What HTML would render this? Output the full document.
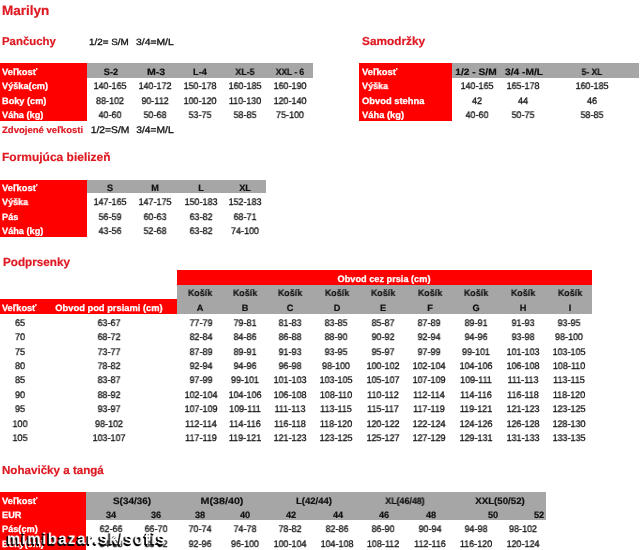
<!DOCTYPE html>
<html><head><meta charset="utf-8"><style>
html,body{margin:0;padding:0;background:#fff;width:640px;height:550px;overflow:hidden}
body{position:relative;font-family:"Liberation Sans",sans-serif}
.r{position:absolute}
.t{position:absolute;white-space:nowrap;line-height:1;text-rendering:geometricPrecision;will-change:transform}
.n{-webkit-text-stroke:0.3px #111}
.kb{-webkit-text-stroke:0.2px #111}
.wb{-webkit-text-stroke:0.25px #fff}
.rb{-webkit-text-stroke:0.2px #de1922}
</style></head><body>
<div class="r" style="left:0px;top:63.2px;width:87.00px;height:57.50px;background:#ff0000"></div>
<div class="r" style="left:87px;top:63.2px;width:226.00px;height:14.50px;background:#a6a6a6"></div>
<div class="r" style="left:359.3px;top:63.2px;width:93.00px;height:57.50px;background:#ff0000"></div>
<div class="r" style="left:452.3px;top:63.2px;width:186.70px;height:14.50px;background:#a6a6a6"></div>
<div class="r" style="left:0px;top:179.6px;width:87.00px;height:57.20px;background:#ff0000"></div>
<div class="r" style="left:87px;top:179.6px;width:179.00px;height:13.90px;background:#a6a6a6"></div>
<div class="r" style="left:177px;top:270.3px;width:415.00px;height:14.60px;background:#ff0000"></div>
<div class="r" style="left:177px;top:284.9px;width:415.00px;height:28.90px;background:#a6a6a6"></div>
<div class="r" style="left:0px;top:299.4px;width:177.00px;height:14.40px;background:#ff0000"></div>
<div class="r" style="left:0px;top:492.4px;width:86.30px;height:57.60px;background:#ff0000"></div>
<div class="r" style="left:86.3px;top:492.4px;width:459.70px;height:28.10px;background:#a6a6a6"></div>
<div class="t rb" style="left:2.30px;top:4px;font-size:13.5px;font-weight:bold;color:#de1922;">Marilyn</div>
<div class="t rb" style="left:2.20px;top:37px;font-size:11.4px;font-weight:bold;color:#de1922;">Pančuchy</div>
<div class="t n" style="left:88.60px;top:38px;font-size:9px;color:#111;transform:scaleX(1.096);transform-origin:left;">1/2= S/M</div>
<div class="t n" style="left:135.50px;top:38px;font-size:9px;color:#111;transform:scaleX(1.150);transform-origin:left;">3/4=M/L</div>
<div class="t rb" style="left:361.70px;top:36px;font-size:11.6px;font-weight:bold;color:#de1922;transform:scaleX(1.019);transform-origin:left;">Samodržky</div>
<div class="t wb" style="left:1.60px;top:68px;font-size:9.2px;font-weight:bold;color:#fff;transform:scaleX(1.018);transform-origin:left;">Veľkosť</div>
<div class="t kb" style="left:-39.50px;width:300px;text-align:center;top:68px;font-size:9.2px;font-weight:bold;color:#111;">S-2</div>
<div class="t kb" style="left:5.60px;width:300px;text-align:center;top:68px;font-size:9.2px;font-weight:bold;color:#111;transform:scaleX(1.150);transform-origin:center;">M-3</div>
<div class="t kb" style="left:50.20px;width:300px;text-align:center;top:68px;font-size:9.2px;font-weight:bold;color:#111;">L-4</div>
<div class="t kb" style="left:95.10px;width:300px;text-align:center;top:68px;font-size:9.2px;font-weight:bold;color:#111;transform:scaleX(0.963);transform-origin:center;">XL-5</div>
<div class="t kb" style="left:140.30px;width:300px;text-align:center;top:68px;font-size:9.2px;font-weight:bold;color:#111;transform:scaleX(0.917);transform-origin:center;">XXL - 6</div>
<div class="t wb" style="left:1.60px;top:82px;font-size:9.2px;font-weight:bold;color:#fff;">Výška(cm)</div>
<div class="t n" style="left:-39.70px;width:300px;text-align:center;top:82px;font-size:9.6px;color:#111;transform:scaleX(0.938);transform-origin:center;">140-165</div>
<div class="t n" style="left:5.20px;width:300px;text-align:center;top:82px;font-size:9.6px;color:#111;transform:scaleX(0.938);transform-origin:center;">140-172</div>
<div class="t n" style="left:50.40px;width:300px;text-align:center;top:82px;font-size:9.6px;color:#111;transform:scaleX(0.938);transform-origin:center;">150-178</div>
<div class="t n" style="left:95.20px;width:300px;text-align:center;top:82px;font-size:9.6px;color:#111;transform:scaleX(0.938);transform-origin:center;">160-185</div>
<div class="t n" style="left:140.20px;width:300px;text-align:center;top:82px;font-size:9.6px;color:#111;transform:scaleX(0.938);transform-origin:center;">160-190</div>
<div class="t wb" style="left:1.60px;top:97px;font-size:9.2px;font-weight:bold;color:#fff;">Boky (cm)</div>
<div class="t n" style="left:-39.70px;width:300px;text-align:center;top:97px;font-size:9.6px;color:#111;transform:scaleX(0.938);transform-origin:center;">88-102</div>
<div class="t n" style="left:5.20px;width:300px;text-align:center;top:97px;font-size:9.6px;color:#111;transform:scaleX(0.938);transform-origin:center;">90-112</div>
<div class="t n" style="left:50.40px;width:300px;text-align:center;top:97px;font-size:9.6px;color:#111;transform:scaleX(0.938);transform-origin:center;">100-120</div>
<div class="t n" style="left:95.20px;width:300px;text-align:center;top:97px;font-size:9.6px;color:#111;transform:scaleX(0.938);transform-origin:center;">110-130</div>
<div class="t n" style="left:140.20px;width:300px;text-align:center;top:97px;font-size:9.6px;color:#111;transform:scaleX(0.938);transform-origin:center;">120-140</div>
<div class="t wb" style="left:1.60px;top:111px;font-size:9.2px;font-weight:bold;color:#fff;">Váha (kg)</div>
<div class="t n" style="left:-39.70px;width:300px;text-align:center;top:111px;font-size:9.6px;color:#111;transform:scaleX(0.938);transform-origin:center;">40-60</div>
<div class="t n" style="left:5.20px;width:300px;text-align:center;top:111px;font-size:9.6px;color:#111;transform:scaleX(0.938);transform-origin:center;">50-68</div>
<div class="t n" style="left:50.40px;width:300px;text-align:center;top:111px;font-size:9.6px;color:#111;transform:scaleX(0.938);transform-origin:center;">53-75</div>
<div class="t n" style="left:95.20px;width:300px;text-align:center;top:111px;font-size:9.6px;color:#111;transform:scaleX(0.938);transform-origin:center;">58-85</div>
<div class="t n" style="left:140.20px;width:300px;text-align:center;top:111px;font-size:9.6px;color:#111;transform:scaleX(0.938);transform-origin:center;">75-100</div>
<div class="t rb" style="left:1.50px;top:126px;font-size:9.2px;font-weight:bold;color:#de1922;transform:scaleX(1.039);transform-origin:left;">Zdvojené veľkosti</div>
<div class="t n" style="left:-39.75px;width:300px;text-align:center;top:126px;font-size:9.6px;color:#111;transform:scaleX(1.074);transform-origin:center;">1/2=S/M</div>
<div class="t n" style="left:5.40px;width:300px;text-align:center;top:126px;font-size:9.6px;color:#111;transform:scaleX(1.070);transform-origin:center;">3/4=M/L</div>
<div class="t wb" style="left:361.50px;top:68px;font-size:9.2px;font-weight:bold;color:#fff;transform:scaleX(1.021);transform-origin:left;">Veľkosť</div>
<div class="t kb" style="left:325.90px;width:300px;text-align:center;top:68px;font-size:9.2px;font-weight:bold;color:#111;transform:scaleX(1.107);transform-origin:center;">1/2 - S/M</div>
<div class="t kb" style="left:374.30px;width:300px;text-align:center;top:68px;font-size:9.2px;font-weight:bold;color:#111;transform:scaleX(1.113);transform-origin:center;">3/4 -M/L</div>
<div class="t kb" style="left:442.35px;width:300px;text-align:center;top:68px;font-size:9.2px;font-weight:bold;color:#111;transform:scaleX(0.929);transform-origin:center;">5- XL</div>
<div class="t wb" style="left:361.50px;top:82px;font-size:9.2px;font-weight:bold;color:#fff;transform:scaleX(0.982);transform-origin:left;">Výška</div>
<div class="t n" style="left:326.50px;width:300px;text-align:center;top:82px;font-size:9.6px;color:#111;transform:scaleX(0.938);transform-origin:center;">140-165</div>
<div class="t n" style="left:372.80px;width:300px;text-align:center;top:82px;font-size:9.6px;color:#111;transform:scaleX(0.938);transform-origin:center;">165-178</div>
<div class="t n" style="left:442.20px;width:300px;text-align:center;top:82px;font-size:9.6px;color:#111;transform:scaleX(0.938);transform-origin:center;">160-185</div>
<div class="t wb" style="left:361.50px;top:97px;font-size:9.2px;font-weight:bold;color:#fff;transform:scaleX(1.018);transform-origin:left;">Obvod stehna</div>
<div class="t n" style="left:326.50px;width:300px;text-align:center;top:97px;font-size:9.6px;color:#111;transform:scaleX(0.938);transform-origin:center;">42</div>
<div class="t n" style="left:372.80px;width:300px;text-align:center;top:97px;font-size:9.6px;color:#111;transform:scaleX(0.938);transform-origin:center;">44</div>
<div class="t n" style="left:442.20px;width:300px;text-align:center;top:97px;font-size:9.6px;color:#111;transform:scaleX(0.938);transform-origin:center;">46</div>
<div class="t wb" style="left:361.50px;top:111px;font-size:9.2px;font-weight:bold;color:#fff;transform:scaleX(1.018);transform-origin:left;">Váha (kg)</div>
<div class="t n" style="left:326.50px;width:300px;text-align:center;top:111px;font-size:9.6px;color:#111;transform:scaleX(0.938);transform-origin:center;">40-60</div>
<div class="t n" style="left:372.80px;width:300px;text-align:center;top:111px;font-size:9.6px;color:#111;transform:scaleX(0.938);transform-origin:center;">50-75</div>
<div class="t n" style="left:442.20px;width:300px;text-align:center;top:111px;font-size:9.6px;color:#111;transform:scaleX(0.938);transform-origin:center;">58-85</div>
<div class="t rb" style="left:2.10px;top:152px;font-size:11.8px;font-weight:bold;color:#de1922;transform:scaleX(1.016);transform-origin:left;">Formujúca bielizeň</div>
<div class="t wb" style="left:1.60px;top:184px;font-size:9.2px;font-weight:bold;color:#fff;transform:scaleX(1.018);transform-origin:left;">Veľkosť</div>
<div class="t kb" style="left:-39.80px;width:300px;text-align:center;top:184px;font-size:9.2px;font-weight:bold;color:#111;">S</div>
<div class="t kb" style="left:5.30px;width:300px;text-align:center;top:184px;font-size:9.2px;font-weight:bold;color:#111;">M</div>
<div class="t kb" style="left:50.50px;width:300px;text-align:center;top:184px;font-size:9.2px;font-weight:bold;color:#111;">L</div>
<div class="t kb" style="left:95.00px;width:300px;text-align:center;top:184px;font-size:9.2px;font-weight:bold;color:#111;">XL</div>
<div class="t wb" style="left:1.60px;top:198px;font-size:9.2px;font-weight:bold;color:#fff;transform:scaleX(0.982);transform-origin:left;">Výška</div>
<div class="t n" style="left:-39.60px;width:300px;text-align:center;top:198px;font-size:9.6px;color:#111;transform:scaleX(0.938);transform-origin:center;">147-165</div>
<div class="t n" style="left:5.40px;width:300px;text-align:center;top:198px;font-size:9.6px;color:#111;transform:scaleX(0.938);transform-origin:center;">147-175</div>
<div class="t n" style="left:50.50px;width:300px;text-align:center;top:198px;font-size:9.6px;color:#111;transform:scaleX(0.938);transform-origin:center;">150-183</div>
<div class="t n" style="left:95.20px;width:300px;text-align:center;top:198px;font-size:9.6px;color:#111;transform:scaleX(0.938);transform-origin:center;">152-183</div>
<div class="t wb" style="left:1.60px;top:213px;font-size:9.2px;font-weight:bold;color:#fff;">Pás</div>
<div class="t n" style="left:-39.60px;width:300px;text-align:center;top:213px;font-size:9.6px;color:#111;transform:scaleX(0.938);transform-origin:center;">56-59</div>
<div class="t n" style="left:5.40px;width:300px;text-align:center;top:213px;font-size:9.6px;color:#111;transform:scaleX(0.938);transform-origin:center;">60-63</div>
<div class="t n" style="left:50.50px;width:300px;text-align:center;top:213px;font-size:9.6px;color:#111;transform:scaleX(0.938);transform-origin:center;">63-82</div>
<div class="t n" style="left:95.20px;width:300px;text-align:center;top:213px;font-size:9.6px;color:#111;transform:scaleX(0.938);transform-origin:center;">68-71</div>
<div class="t wb" style="left:1.60px;top:227px;font-size:9.2px;font-weight:bold;color:#fff;">Váha (kg)</div>
<div class="t n" style="left:-39.60px;width:300px;text-align:center;top:227px;font-size:9.6px;color:#111;transform:scaleX(0.938);transform-origin:center;">43-56</div>
<div class="t n" style="left:5.40px;width:300px;text-align:center;top:227px;font-size:9.6px;color:#111;transform:scaleX(0.938);transform-origin:center;">52-68</div>
<div class="t n" style="left:50.50px;width:300px;text-align:center;top:227px;font-size:9.6px;color:#111;transform:scaleX(0.938);transform-origin:center;">63-82</div>
<div class="t n" style="left:95.20px;width:300px;text-align:center;top:227px;font-size:9.6px;color:#111;transform:scaleX(0.938);transform-origin:center;">74-100</div>
<div class="t rb" style="left:2.60px;top:257px;font-size:11.7px;font-weight:bold;color:#de1922;">Podprsenky</div>
<div class="t wb" style="left:234.40px;width:300px;text-align:center;top:275px;font-size:9.2px;font-weight:bold;color:#fff;">Obvod cez prsia (cm)</div>
<div class="t kb" style="left:50.40px;width:300px;text-align:center;top:289px;font-size:9.2px;font-weight:bold;color:#111;transform:scaleX(0.966);transform-origin:center;">Košík</div>
<div class="t kb" style="left:50.40px;width:300px;text-align:center;top:304px;font-size:9.2px;font-weight:bold;color:#111;">A</div>
<div class="t kb" style="left:94.70px;width:300px;text-align:center;top:289px;font-size:9.2px;font-weight:bold;color:#111;transform:scaleX(0.966);transform-origin:center;">Košík</div>
<div class="t kb" style="left:94.70px;width:300px;text-align:center;top:304px;font-size:9.2px;font-weight:bold;color:#111;">B</div>
<div class="t kb" style="left:139.60px;width:300px;text-align:center;top:289px;font-size:9.2px;font-weight:bold;color:#111;transform:scaleX(0.966);transform-origin:center;">Košík</div>
<div class="t kb" style="left:139.60px;width:300px;text-align:center;top:304px;font-size:9.2px;font-weight:bold;color:#111;">C</div>
<div class="t kb" style="left:186.60px;width:300px;text-align:center;top:289px;font-size:9.2px;font-weight:bold;color:#111;transform:scaleX(0.966);transform-origin:center;">Košík</div>
<div class="t kb" style="left:186.60px;width:300px;text-align:center;top:304px;font-size:9.2px;font-weight:bold;color:#111;">D</div>
<div class="t kb" style="left:233.10px;width:300px;text-align:center;top:289px;font-size:9.2px;font-weight:bold;color:#111;transform:scaleX(0.966);transform-origin:center;">Košík</div>
<div class="t kb" style="left:233.10px;width:300px;text-align:center;top:304px;font-size:9.2px;font-weight:bold;color:#111;">E</div>
<div class="t kb" style="left:279.60px;width:300px;text-align:center;top:289px;font-size:9.2px;font-weight:bold;color:#111;transform:scaleX(0.966);transform-origin:center;">Košík</div>
<div class="t kb" style="left:279.60px;width:300px;text-align:center;top:304px;font-size:9.2px;font-weight:bold;color:#111;">F</div>
<div class="t kb" style="left:326.20px;width:300px;text-align:center;top:289px;font-size:9.2px;font-weight:bold;color:#111;transform:scaleX(0.966);transform-origin:center;">Košík</div>
<div class="t kb" style="left:326.20px;width:300px;text-align:center;top:304px;font-size:9.2px;font-weight:bold;color:#111;">G</div>
<div class="t kb" style="left:372.70px;width:300px;text-align:center;top:289px;font-size:9.2px;font-weight:bold;color:#111;transform:scaleX(0.966);transform-origin:center;">Košík</div>
<div class="t kb" style="left:372.70px;width:300px;text-align:center;top:304px;font-size:9.2px;font-weight:bold;color:#111;">H</div>
<div class="t kb" style="left:419.50px;width:300px;text-align:center;top:289px;font-size:9.2px;font-weight:bold;color:#111;transform:scaleX(0.966);transform-origin:center;">Košík</div>
<div class="t kb" style="left:419.50px;width:300px;text-align:center;top:304px;font-size:9.2px;font-weight:bold;color:#111;">I</div>
<div class="t wb" style="left:2.00px;top:304px;font-size:9.2px;font-weight:bold;color:#fff;">Veľkosť</div>
<div class="t wb" style="left:-40.90px;width:300px;text-align:center;top:304px;font-size:9.2px;font-weight:bold;color:#fff;transform:scaleX(1.017);transform-origin:center;">Obvod pod prsiami (cm)</div>
<div class="t n" style="left:-129.80px;width:300px;text-align:center;top:319px;font-size:9.6px;color:#111;transform:scaleX(0.938);transform-origin:center;">65</div>
<div class="t n" style="left:-41.50px;width:300px;text-align:center;top:319px;font-size:9.6px;color:#111;transform:scaleX(0.938);transform-origin:center;">63-67</div>
<div class="t n" style="left:50.70px;width:300px;text-align:center;top:319px;font-size:9.6px;color:#111;transform:scaleX(0.938);transform-origin:center;">77-79</div>
<div class="t n" style="left:95.00px;width:300px;text-align:center;top:319px;font-size:9.6px;color:#111;transform:scaleX(0.938);transform-origin:center;">79-81</div>
<div class="t n" style="left:140.00px;width:300px;text-align:center;top:319px;font-size:9.6px;color:#111;transform:scaleX(0.938);transform-origin:center;">81-83</div>
<div class="t n" style="left:186.30px;width:300px;text-align:center;top:319px;font-size:9.6px;color:#111;transform:scaleX(0.938);transform-origin:center;">83-85</div>
<div class="t n" style="left:233.00px;width:300px;text-align:center;top:319px;font-size:9.6px;color:#111;transform:scaleX(0.938);transform-origin:center;">85-87</div>
<div class="t n" style="left:279.30px;width:300px;text-align:center;top:319px;font-size:9.6px;color:#111;transform:scaleX(0.938);transform-origin:center;">87-89</div>
<div class="t n" style="left:326.00px;width:300px;text-align:center;top:319px;font-size:9.6px;color:#111;transform:scaleX(0.938);transform-origin:center;">89-91</div>
<div class="t n" style="left:372.50px;width:300px;text-align:center;top:319px;font-size:9.6px;color:#111;transform:scaleX(0.938);transform-origin:center;">91-93</div>
<div class="t n" style="left:419.20px;width:300px;text-align:center;top:319px;font-size:9.6px;color:#111;transform:scaleX(0.938);transform-origin:center;">93-95</div>
<div class="t n" style="left:-129.80px;width:300px;text-align:center;top:333px;font-size:9.6px;color:#111;transform:scaleX(0.938);transform-origin:center;">70</div>
<div class="t n" style="left:-41.50px;width:300px;text-align:center;top:333px;font-size:9.6px;color:#111;transform:scaleX(0.938);transform-origin:center;">68-72</div>
<div class="t n" style="left:50.70px;width:300px;text-align:center;top:333px;font-size:9.6px;color:#111;transform:scaleX(0.938);transform-origin:center;">82-84</div>
<div class="t n" style="left:95.00px;width:300px;text-align:center;top:333px;font-size:9.6px;color:#111;transform:scaleX(0.938);transform-origin:center;">84-86</div>
<div class="t n" style="left:140.00px;width:300px;text-align:center;top:333px;font-size:9.6px;color:#111;transform:scaleX(0.938);transform-origin:center;">86-88</div>
<div class="t n" style="left:186.30px;width:300px;text-align:center;top:333px;font-size:9.6px;color:#111;transform:scaleX(0.938);transform-origin:center;">88-90</div>
<div class="t n" style="left:233.00px;width:300px;text-align:center;top:333px;font-size:9.6px;color:#111;transform:scaleX(0.938);transform-origin:center;">90-92</div>
<div class="t n" style="left:279.30px;width:300px;text-align:center;top:333px;font-size:9.6px;color:#111;transform:scaleX(0.938);transform-origin:center;">92-94</div>
<div class="t n" style="left:326.00px;width:300px;text-align:center;top:333px;font-size:9.6px;color:#111;transform:scaleX(0.938);transform-origin:center;">94-96</div>
<div class="t n" style="left:372.50px;width:300px;text-align:center;top:333px;font-size:9.6px;color:#111;transform:scaleX(0.938);transform-origin:center;">93-98</div>
<div class="t n" style="left:419.20px;width:300px;text-align:center;top:333px;font-size:9.6px;color:#111;transform:scaleX(0.938);transform-origin:center;">98-100</div>
<div class="t n" style="left:-129.80px;width:300px;text-align:center;top:348px;font-size:9.6px;color:#111;transform:scaleX(0.938);transform-origin:center;">75</div>
<div class="t n" style="left:-41.50px;width:300px;text-align:center;top:348px;font-size:9.6px;color:#111;transform:scaleX(0.938);transform-origin:center;">73-77</div>
<div class="t n" style="left:50.70px;width:300px;text-align:center;top:348px;font-size:9.6px;color:#111;transform:scaleX(0.938);transform-origin:center;">87-89</div>
<div class="t n" style="left:95.00px;width:300px;text-align:center;top:348px;font-size:9.6px;color:#111;transform:scaleX(0.938);transform-origin:center;">89-91</div>
<div class="t n" style="left:140.00px;width:300px;text-align:center;top:348px;font-size:9.6px;color:#111;transform:scaleX(0.938);transform-origin:center;">91-93</div>
<div class="t n" style="left:186.30px;width:300px;text-align:center;top:348px;font-size:9.6px;color:#111;transform:scaleX(0.938);transform-origin:center;">93-95</div>
<div class="t n" style="left:233.00px;width:300px;text-align:center;top:348px;font-size:9.6px;color:#111;transform:scaleX(0.938);transform-origin:center;">95-97</div>
<div class="t n" style="left:279.30px;width:300px;text-align:center;top:348px;font-size:9.6px;color:#111;transform:scaleX(0.938);transform-origin:center;">97-99</div>
<div class="t n" style="left:326.00px;width:300px;text-align:center;top:348px;font-size:9.6px;color:#111;transform:scaleX(0.938);transform-origin:center;">99-101</div>
<div class="t n" style="left:372.50px;width:300px;text-align:center;top:348px;font-size:9.6px;color:#111;transform:scaleX(0.938);transform-origin:center;">101-103</div>
<div class="t n" style="left:419.20px;width:300px;text-align:center;top:348px;font-size:9.6px;color:#111;transform:scaleX(0.938);transform-origin:center;">103-105</div>
<div class="t n" style="left:-129.80px;width:300px;text-align:center;top:362px;font-size:9.6px;color:#111;transform:scaleX(0.938);transform-origin:center;">80</div>
<div class="t n" style="left:-41.50px;width:300px;text-align:center;top:362px;font-size:9.6px;color:#111;transform:scaleX(0.938);transform-origin:center;">78-82</div>
<div class="t n" style="left:50.70px;width:300px;text-align:center;top:362px;font-size:9.6px;color:#111;transform:scaleX(0.938);transform-origin:center;">92-94</div>
<div class="t n" style="left:95.00px;width:300px;text-align:center;top:362px;font-size:9.6px;color:#111;transform:scaleX(0.938);transform-origin:center;">94-96</div>
<div class="t n" style="left:140.00px;width:300px;text-align:center;top:362px;font-size:9.6px;color:#111;transform:scaleX(0.938);transform-origin:center;">96-98</div>
<div class="t n" style="left:186.30px;width:300px;text-align:center;top:362px;font-size:9.6px;color:#111;transform:scaleX(0.938);transform-origin:center;">98-100</div>
<div class="t n" style="left:233.00px;width:300px;text-align:center;top:362px;font-size:9.6px;color:#111;transform:scaleX(0.938);transform-origin:center;">100-102</div>
<div class="t n" style="left:279.30px;width:300px;text-align:center;top:362px;font-size:9.6px;color:#111;transform:scaleX(0.938);transform-origin:center;">102-104</div>
<div class="t n" style="left:326.00px;width:300px;text-align:center;top:362px;font-size:9.6px;color:#111;transform:scaleX(0.938);transform-origin:center;">104-106</div>
<div class="t n" style="left:372.50px;width:300px;text-align:center;top:362px;font-size:9.6px;color:#111;transform:scaleX(0.938);transform-origin:center;">106-108</div>
<div class="t n" style="left:419.20px;width:300px;text-align:center;top:362px;font-size:9.6px;color:#111;transform:scaleX(0.938);transform-origin:center;">108-110</div>
<div class="t n" style="left:-129.80px;width:300px;text-align:center;top:376px;font-size:9.6px;color:#111;transform:scaleX(0.938);transform-origin:center;">85</div>
<div class="t n" style="left:-41.50px;width:300px;text-align:center;top:376px;font-size:9.6px;color:#111;transform:scaleX(0.938);transform-origin:center;">83-87</div>
<div class="t n" style="left:50.70px;width:300px;text-align:center;top:376px;font-size:9.6px;color:#111;transform:scaleX(0.938);transform-origin:center;">97-99</div>
<div class="t n" style="left:95.00px;width:300px;text-align:center;top:376px;font-size:9.6px;color:#111;transform:scaleX(0.938);transform-origin:center;">99-101</div>
<div class="t n" style="left:140.00px;width:300px;text-align:center;top:376px;font-size:9.6px;color:#111;transform:scaleX(0.938);transform-origin:center;">101-103</div>
<div class="t n" style="left:186.30px;width:300px;text-align:center;top:376px;font-size:9.6px;color:#111;transform:scaleX(0.938);transform-origin:center;">103-105</div>
<div class="t n" style="left:233.00px;width:300px;text-align:center;top:376px;font-size:9.6px;color:#111;transform:scaleX(0.938);transform-origin:center;">105-107</div>
<div class="t n" style="left:279.30px;width:300px;text-align:center;top:376px;font-size:9.6px;color:#111;transform:scaleX(0.938);transform-origin:center;">107-109</div>
<div class="t n" style="left:326.00px;width:300px;text-align:center;top:376px;font-size:9.6px;color:#111;transform:scaleX(0.938);transform-origin:center;">109-111</div>
<div class="t n" style="left:372.50px;width:300px;text-align:center;top:376px;font-size:9.6px;color:#111;transform:scaleX(0.938);transform-origin:center;">111-113</div>
<div class="t n" style="left:419.20px;width:300px;text-align:center;top:376px;font-size:9.6px;color:#111;transform:scaleX(0.938);transform-origin:center;">113-115</div>
<div class="t n" style="left:-129.80px;width:300px;text-align:center;top:391px;font-size:9.6px;color:#111;transform:scaleX(0.938);transform-origin:center;">90</div>
<div class="t n" style="left:-41.50px;width:300px;text-align:center;top:391px;font-size:9.6px;color:#111;transform:scaleX(0.938);transform-origin:center;">88-92</div>
<div class="t n" style="left:50.70px;width:300px;text-align:center;top:391px;font-size:9.6px;color:#111;transform:scaleX(0.938);transform-origin:center;">102-104</div>
<div class="t n" style="left:95.00px;width:300px;text-align:center;top:391px;font-size:9.6px;color:#111;transform:scaleX(0.938);transform-origin:center;">104-106</div>
<div class="t n" style="left:140.00px;width:300px;text-align:center;top:391px;font-size:9.6px;color:#111;transform:scaleX(0.938);transform-origin:center;">106-108</div>
<div class="t n" style="left:186.30px;width:300px;text-align:center;top:391px;font-size:9.6px;color:#111;transform:scaleX(0.938);transform-origin:center;">108-110</div>
<div class="t n" style="left:233.00px;width:300px;text-align:center;top:391px;font-size:9.6px;color:#111;transform:scaleX(0.938);transform-origin:center;">110-112</div>
<div class="t n" style="left:279.30px;width:300px;text-align:center;top:391px;font-size:9.6px;color:#111;transform:scaleX(0.938);transform-origin:center;">112-114</div>
<div class="t n" style="left:326.00px;width:300px;text-align:center;top:391px;font-size:9.6px;color:#111;transform:scaleX(0.938);transform-origin:center;">114-116</div>
<div class="t n" style="left:372.50px;width:300px;text-align:center;top:391px;font-size:9.6px;color:#111;transform:scaleX(0.938);transform-origin:center;">116-118</div>
<div class="t n" style="left:419.20px;width:300px;text-align:center;top:391px;font-size:9.6px;color:#111;transform:scaleX(0.938);transform-origin:center;">118-120</div>
<div class="t n" style="left:-129.80px;width:300px;text-align:center;top:405px;font-size:9.6px;color:#111;transform:scaleX(0.938);transform-origin:center;">95</div>
<div class="t n" style="left:-41.50px;width:300px;text-align:center;top:405px;font-size:9.6px;color:#111;transform:scaleX(0.938);transform-origin:center;">93-97</div>
<div class="t n" style="left:50.70px;width:300px;text-align:center;top:405px;font-size:9.6px;color:#111;transform:scaleX(0.938);transform-origin:center;">107-109</div>
<div class="t n" style="left:95.00px;width:300px;text-align:center;top:405px;font-size:9.6px;color:#111;transform:scaleX(0.938);transform-origin:center;">109-111</div>
<div class="t n" style="left:140.00px;width:300px;text-align:center;top:405px;font-size:9.6px;color:#111;transform:scaleX(0.938);transform-origin:center;">111-113</div>
<div class="t n" style="left:186.30px;width:300px;text-align:center;top:405px;font-size:9.6px;color:#111;transform:scaleX(0.938);transform-origin:center;">113-115</div>
<div class="t n" style="left:233.00px;width:300px;text-align:center;top:405px;font-size:9.6px;color:#111;transform:scaleX(0.938);transform-origin:center;">115-117</div>
<div class="t n" style="left:279.30px;width:300px;text-align:center;top:405px;font-size:9.6px;color:#111;transform:scaleX(0.938);transform-origin:center;">117-119</div>
<div class="t n" style="left:326.00px;width:300px;text-align:center;top:405px;font-size:9.6px;color:#111;transform:scaleX(0.938);transform-origin:center;">119-121</div>
<div class="t n" style="left:372.50px;width:300px;text-align:center;top:405px;font-size:9.6px;color:#111;transform:scaleX(0.938);transform-origin:center;">121-123</div>
<div class="t n" style="left:419.20px;width:300px;text-align:center;top:405px;font-size:9.6px;color:#111;transform:scaleX(0.938);transform-origin:center;">123-125</div>
<div class="t n" style="left:-129.80px;width:300px;text-align:center;top:420px;font-size:9.6px;color:#111;transform:scaleX(0.938);transform-origin:center;">100</div>
<div class="t n" style="left:-41.50px;width:300px;text-align:center;top:420px;font-size:9.6px;color:#111;transform:scaleX(0.938);transform-origin:center;">98-102</div>
<div class="t n" style="left:50.70px;width:300px;text-align:center;top:420px;font-size:9.6px;color:#111;transform:scaleX(0.938);transform-origin:center;">112-114</div>
<div class="t n" style="left:95.00px;width:300px;text-align:center;top:420px;font-size:9.6px;color:#111;transform:scaleX(0.938);transform-origin:center;">114-116</div>
<div class="t n" style="left:140.00px;width:300px;text-align:center;top:420px;font-size:9.6px;color:#111;transform:scaleX(0.938);transform-origin:center;">116-118</div>
<div class="t n" style="left:186.30px;width:300px;text-align:center;top:420px;font-size:9.6px;color:#111;transform:scaleX(0.938);transform-origin:center;">118-120</div>
<div class="t n" style="left:233.00px;width:300px;text-align:center;top:420px;font-size:9.6px;color:#111;transform:scaleX(0.938);transform-origin:center;">120-122</div>
<div class="t n" style="left:279.30px;width:300px;text-align:center;top:420px;font-size:9.6px;color:#111;transform:scaleX(0.938);transform-origin:center;">122-124</div>
<div class="t n" style="left:326.00px;width:300px;text-align:center;top:420px;font-size:9.6px;color:#111;transform:scaleX(0.938);transform-origin:center;">124-126</div>
<div class="t n" style="left:372.50px;width:300px;text-align:center;top:420px;font-size:9.6px;color:#111;transform:scaleX(0.938);transform-origin:center;">126-128</div>
<div class="t n" style="left:419.20px;width:300px;text-align:center;top:420px;font-size:9.6px;color:#111;transform:scaleX(0.938);transform-origin:center;">128-130</div>
<div class="t n" style="left:-129.80px;width:300px;text-align:center;top:434px;font-size:9.6px;color:#111;transform:scaleX(0.938);transform-origin:center;">105</div>
<div class="t n" style="left:-41.50px;width:300px;text-align:center;top:434px;font-size:9.6px;color:#111;transform:scaleX(0.938);transform-origin:center;">103-107</div>
<div class="t n" style="left:50.70px;width:300px;text-align:center;top:434px;font-size:9.6px;color:#111;transform:scaleX(0.938);transform-origin:center;">117-119</div>
<div class="t n" style="left:95.00px;width:300px;text-align:center;top:434px;font-size:9.6px;color:#111;transform:scaleX(0.938);transform-origin:center;">119-121</div>
<div class="t n" style="left:140.00px;width:300px;text-align:center;top:434px;font-size:9.6px;color:#111;transform:scaleX(0.938);transform-origin:center;">121-123</div>
<div class="t n" style="left:186.30px;width:300px;text-align:center;top:434px;font-size:9.6px;color:#111;transform:scaleX(0.938);transform-origin:center;">123-125</div>
<div class="t n" style="left:233.00px;width:300px;text-align:center;top:434px;font-size:9.6px;color:#111;transform:scaleX(0.938);transform-origin:center;">125-127</div>
<div class="t n" style="left:279.30px;width:300px;text-align:center;top:434px;font-size:9.6px;color:#111;transform:scaleX(0.938);transform-origin:center;">127-129</div>
<div class="t n" style="left:326.00px;width:300px;text-align:center;top:434px;font-size:9.6px;color:#111;transform:scaleX(0.938);transform-origin:center;">129-131</div>
<div class="t n" style="left:372.50px;width:300px;text-align:center;top:434px;font-size:9.6px;color:#111;transform:scaleX(0.938);transform-origin:center;">131-133</div>
<div class="t n" style="left:419.20px;width:300px;text-align:center;top:434px;font-size:9.6px;color:#111;transform:scaleX(0.938);transform-origin:center;">133-135</div>
<div class="t rb" style="left:2.10px;top:465px;font-size:11.6px;font-weight:bold;color:#de1922;">Nohavičky a tangá</div>
<div class="t wb" style="left:1.60px;top:497px;font-size:9.2px;font-weight:bold;color:#fff;transform:scaleX(1.018);transform-origin:left;">Veľkosť</div>
<div class="t wb" style="left:1.60px;top:511px;font-size:9.2px;font-weight:bold;color:#fff;">EUR</div>
<div class="t wb" style="left:1.60px;top:525px;font-size:9.2px;font-weight:bold;color:#fff;">Pás(cm)</div>
<div class="t wb" style="left:1.60px;top:540px;font-size:9.2px;font-weight:bold;color:#fff;">Boky(cm)</div>
<div class="t kb" style="left:-18.20px;width:300px;text-align:center;top:497px;font-size:9.2px;font-weight:bold;color:#111;transform:scaleX(1.080);transform-origin:center;">S(34/36)</div>
<div class="t kb" style="left:72.20px;width:300px;text-align:center;top:497px;font-size:9.2px;font-weight:bold;color:#111;transform:scaleX(1.167);transform-origin:center;">M(38/40)</div>
<div class="t kb" style="left:163.80px;width:300px;text-align:center;top:497px;font-size:9.2px;font-weight:bold;color:#111;transform:scaleX(1.040);transform-origin:center;">L(42/44)</div>
<div class="t kb" style="left:254.90px;width:300px;text-align:center;top:497px;font-size:9.2px;font-weight:bold;color:#111;transform:scaleX(0.964);transform-origin:center;">XL(46/48)</div>
<div class="t kb" style="left:349.50px;width:300px;text-align:center;top:497px;font-size:9.2px;font-weight:bold;color:#111;transform:scaleX(1.054);transform-origin:center;">XXL(50/52)</div>
<div class="t kb" style="left:-38.90px;width:300px;text-align:center;top:511px;font-size:9.2px;font-weight:bold;color:#111;">34</div>
<div class="t kb" style="left:5.70px;width:300px;text-align:center;top:511px;font-size:9.2px;font-weight:bold;color:#111;">36</div>
<div class="t kb" style="left:50.40px;width:300px;text-align:center;top:511px;font-size:9.2px;font-weight:bold;color:#111;">38</div>
<div class="t kb" style="left:95.30px;width:300px;text-align:center;top:511px;font-size:9.2px;font-weight:bold;color:#111;">40</div>
<div class="t kb" style="left:141.20px;width:300px;text-align:center;top:511px;font-size:9.2px;font-weight:bold;color:#111;">42</div>
<div class="t kb" style="left:187.50px;width:300px;text-align:center;top:511px;font-size:9.2px;font-weight:bold;color:#111;">44</div>
<div class="t kb" style="left:233.60px;width:300px;text-align:center;top:511px;font-size:9.2px;font-weight:bold;color:#111;">46</div>
<div class="t kb" style="left:280.50px;width:300px;text-align:center;top:511px;font-size:9.2px;font-weight:bold;color:#111;">48</div>
<div class="t kb" style="left:342.90px;width:300px;text-align:center;top:511px;font-size:9.2px;font-weight:bold;color:#111;">50</div>
<div class="t kb" style="left:388.50px;width:300px;text-align:center;top:511px;font-size:9.2px;font-weight:bold;color:#111;">52</div>
<div class="t n" style="left:-39.40px;width:300px;text-align:center;top:525px;font-size:9.6px;color:#111;transform:scaleX(0.938);transform-origin:center;">62-66</div>
<div class="t n" style="left:6.30px;width:300px;text-align:center;top:525px;font-size:9.6px;color:#111;transform:scaleX(0.938);transform-origin:center;">66-70</div>
<div class="t n" style="left:50.00px;width:300px;text-align:center;top:525px;font-size:9.6px;color:#111;transform:scaleX(0.938);transform-origin:center;">70-74</div>
<div class="t n" style="left:94.90px;width:300px;text-align:center;top:525px;font-size:9.6px;color:#111;transform:scaleX(0.938);transform-origin:center;">74-78</div>
<div class="t n" style="left:140.00px;width:300px;text-align:center;top:525px;font-size:9.6px;color:#111;transform:scaleX(0.938);transform-origin:center;">78-82</div>
<div class="t n" style="left:186.60px;width:300px;text-align:center;top:525px;font-size:9.6px;color:#111;transform:scaleX(0.938);transform-origin:center;">82-86</div>
<div class="t n" style="left:233.20px;width:300px;text-align:center;top:525px;font-size:9.6px;color:#111;transform:scaleX(0.938);transform-origin:center;">86-90</div>
<div class="t n" style="left:279.60px;width:300px;text-align:center;top:525px;font-size:9.6px;color:#111;transform:scaleX(0.938);transform-origin:center;">90-94</div>
<div class="t n" style="left:325.80px;width:300px;text-align:center;top:525px;font-size:9.6px;color:#111;transform:scaleX(0.938);transform-origin:center;">94-98</div>
<div class="t n" style="left:372.80px;width:300px;text-align:center;top:525px;font-size:9.6px;color:#111;transform:scaleX(0.938);transform-origin:center;">98-102</div>
<div class="t n" style="left:-39.40px;width:300px;text-align:center;top:540px;font-size:9.6px;color:#111;transform:scaleX(0.938);transform-origin:center;">84-88</div>
<div class="t n" style="left:6.30px;width:300px;text-align:center;top:540px;font-size:9.6px;color:#111;transform:scaleX(0.938);transform-origin:center;">88-92</div>
<div class="t n" style="left:50.00px;width:300px;text-align:center;top:540px;font-size:9.6px;color:#111;transform:scaleX(0.938);transform-origin:center;">92-96</div>
<div class="t n" style="left:94.90px;width:300px;text-align:center;top:540px;font-size:9.6px;color:#111;transform:scaleX(0.938);transform-origin:center;">96-100</div>
<div class="t n" style="left:140.00px;width:300px;text-align:center;top:540px;font-size:9.6px;color:#111;transform:scaleX(0.938);transform-origin:center;">100-104</div>
<div class="t n" style="left:186.60px;width:300px;text-align:center;top:540px;font-size:9.6px;color:#111;transform:scaleX(0.938);transform-origin:center;">104-108</div>
<div class="t n" style="left:233.20px;width:300px;text-align:center;top:540px;font-size:9.6px;color:#111;transform:scaleX(0.938);transform-origin:center;">108-112</div>
<div class="t n" style="left:279.60px;width:300px;text-align:center;top:540px;font-size:9.6px;color:#111;transform:scaleX(0.938);transform-origin:center;">112-116</div>
<div class="t n" style="left:325.80px;width:300px;text-align:center;top:540px;font-size:9.6px;color:#111;transform:scaleX(0.938);transform-origin:center;">116-120</div>
<div class="t n" style="left:372.80px;width:300px;text-align:center;top:540px;font-size:9.6px;color:#111;transform:scaleX(0.938);transform-origin:center;">120-124</div>
<div class="t" style="left:6.60px;top:532px;font-size:16px;font-weight:bold;color:#fff;letter-spacing:1.6px;transform:scaleX(0.932);transform-origin:left;text-shadow:-1px 1px 0 #000,-1.8px 1px 0.4px #000,-1px 1.8px 0.4px #000;">mimibazar.sk/sofis</div>
</body></html>
